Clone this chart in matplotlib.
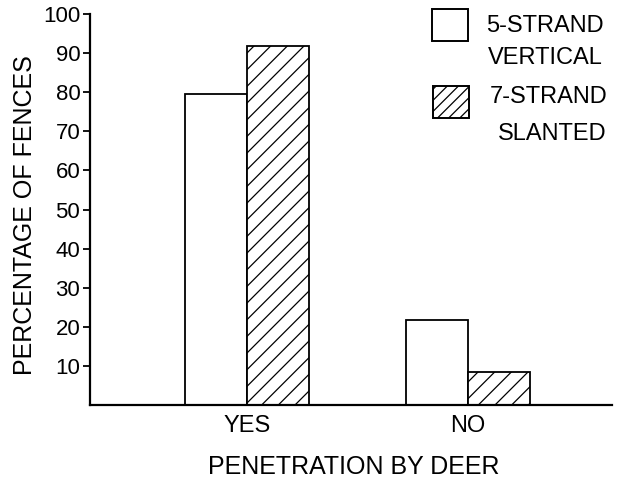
import matplotlib
matplotlib.use("Agg")
import matplotlib.pyplot as plt
from matplotlib.patches import Rectangle

plt.rcParams['font.family'] = ['Liberation Sans', 'DejaVu Sans']
plt.rcParams['hatch.linewidth'] = 0.9

# data
categories = ["YES", "NO"]
vertical_5 = [79.5, 21.7]
slanted_7 = [91.8, 8.4]
yticks = [10, 20, 30, 40, 50, 60, 70, 80, 90, 100]
series_names = ["5-STRAND\nVERTICAL", "7-STRAND\nSLANTED"]

fig = plt.figure(figsize=(6.28, 4.83), dpi=100)
ax = fig.add_axes([0.1433, 0.1615, 0.831, 0.8095])

w = 0.28
x = [0, 1]
ax.bar([i - w / 2 for i in x], vertical_5, width=w, facecolor='white',
       edgecolor='black', linewidth=1.3)
ax.bar([i + w / 2 for i in x], slanted_7, width=w, facecolor='white',
       edgecolor='black', linewidth=1.3, hatch='//')

ax.set_xlim(-0.71, 1.65)
ax.set_ylim(0, 100)
ax.set_yticks(yticks)
ax.set_yticklabels([str(t) for t in yticks], fontsize=16)
ax.set_xticks(x)
ax.set_xticklabels(categories, fontsize=17)
ax.tick_params(axis='x', length=0, pad=7)
ax.tick_params(axis='y', direction='out', length=5, width=1.3, pad=2)
for s in ['top', 'right']:
    ax.spines[s].set_visible(False)
for s in ['left', 'bottom']:
    ax.spines[s].set_linewidth(1.6)

ax.set_ylabel("PERCENTAGE OF FENCES", fontsize=18, va='center')
ax.yaxis.set_label_coords(-0.1245, 0.486)
ax.set_xlabel("PENETRATION BY DEER", fontsize=18, va='center')
ax.xaxis.set_label_coords(0.506, -0.159)

# legend drawn by hand, like the original figure
boxes = [(432, 9), (433, 86)]
hatches = [None, '///']
text_pos = [((486, 26), (488, 58)), ((490, 97), (498, 134))]
for (bx, by), h, name, pos in zip(boxes, hatches, series_names, text_pos):
    r = Rectangle((bx / 628, 1 - (by + 32) / 483), 36 / 628, 32 / 483,
                  transform=fig.transFigure, facecolor='white',
                  edgecolor='black', linewidth=1.4, hatch=h)
    fig.patches.append(r)
    for line, (tx, ty) in zip(name.split("\n"), pos):
        fig.text(tx / 628, 1 - ty / 483, line, fontsize=17,
                 ha='left', va='center')

fig.savefig("out.png", dpi=100)
